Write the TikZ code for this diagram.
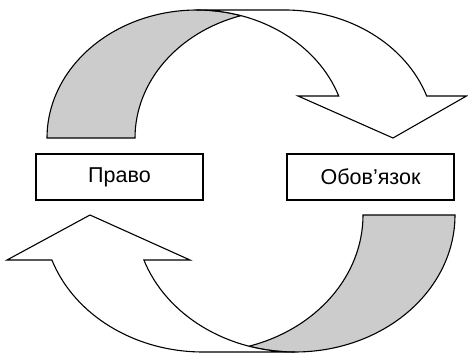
\documentclass[tikz,border=0pt]{standalone}
\usepackage{fontspec}
\setmainfont{Liberation Sans}
\begin{document}
\begin{tikzpicture}[x=1pt,y=1pt,
  backpart/.style={draw=black, fill=gray!40, line width=1.1pt, line join=miter},
  frontpart/.style={draw=black, fill=white, line width=1.1pt, line join=miter},
  labelbox/.style={draw=black, line width=1.1pt, minimum width=167pt, minimum height=46pt, inner sep=0pt, font=\fontsize{21.5}{25}\selectfont}]
\useasboundingbox (0,0) rectangle (468,354);
% top curved arrow (points down to the right)
\draw[backpart] (47,216) arc[start angle=180, end angle=72.94, x radius=150, y radius=128]
  arc[start angle=107.06, end angle=180, x radius=150, y radius=128] -- cycle;
\draw[frontpart] (197,344) -- (285,344) arc[start angle=90, end angle=19.15, x radius=150, y radius=128]
  -- (466.5,258) -- (393,216) -- (298,258) -- (338.7,258)
  arc[start angle=19.15, end angle=90, x radius=150, y radius=128] -- cycle;
% bottom curved arrow (points up to the left)
\draw[backpart] (455,139) arc[start angle=0, end angle=-106.71, x radius=160, y radius=137]
  arc[start angle=-73.29, end angle=0, x radius=160, y radius=137] -- cycle;
\draw[frontpart] (203,2) -- (295,2) arc[start angle=-90, end angle=-160.82, x radius=160, y radius=137]
  -- (190,94) -- (90,139) -- (7,94) -- (51.9,94)
  arc[start angle=-160.82, end angle=-90, x radius=160, y radius=137] -- cycle;
% labels
\node[labelbox] (pravo) at (119.5,177) {Право};
\node[labelbox] (oboviazok) at (370.5,177) {Обов’язок};
\end{tikzpicture}
\end{document}
